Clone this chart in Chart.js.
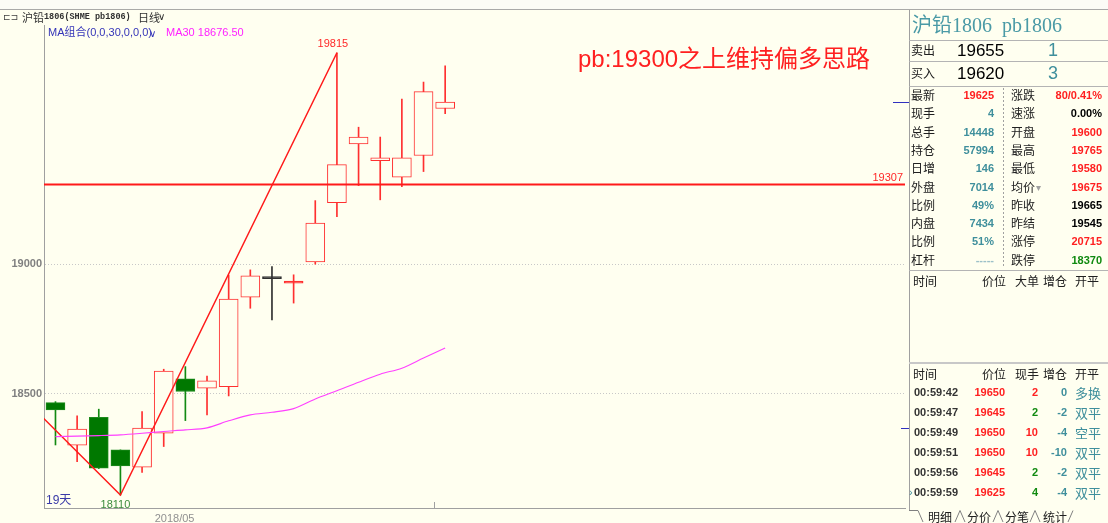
<!DOCTYPE html>
<html>
<head>
<meta charset="utf-8">
<script src="https://cdn.jsdelivr.net/npm/chart.js@4.4.1/dist/chart.umd.min.js"></script>
<style>
body{margin:0;width:1108px;height:523px;overflow:hidden;background:#fffff0;position:relative;font-family:"Noto Sans CJK SC",sans-serif}
#topbar{position:absolute;left:0;top:0;width:1108px;height:9px;background:#fbfbf6;border-bottom:1px solid #a8a8a8}
#wrap{position:absolute;left:0;top:0;width:909px;height:523px}
#panel{position:absolute;left:909px;top:10px;width:198px;height:500px;border-left:1px solid #a0a0a0}
.t{position:absolute;white-space:pre;line-height:1}
.hl{position:absolute;left:909px;width:199px;height:1px;background:#b4b4b4}
</style>
</head>
<body>
<div id="topbar"></div>
<div id="wrap"><canvas id="kline" width="909" height="523"></canvas></div>
<div id="panel"></div>
<svg style="position:absolute;left:0;top:0" width="1108" height="523">
  <g stroke="#808080" stroke-width="1" fill="none">
    <line x1="1003.5" y1="88" x2="1003.5" y2="268" stroke="#a0a0a0" stroke-dasharray="2,2"/>
    <polyline points="909,510.5 918,510.5 923,522"/>
    <polyline points="955,522 960,510.5 965,522"/>
    <polyline points="993,522 998,510.5 1003,522"/>
    <polyline points="1030,522 1035,510.5 1040,522"/>
    <polyline points="1068,522 1073,510.5"/>
  </g>
</svg>
<script>
// 沪铅1806 日线, 19 根K线
const opens  = [18466, 18302, 18410, 18284, 18217, 18348, 18558, 18522, 18528, 18873, 18948, 18929, 19009, 19237, 19464, 19399, 19335, 19419, 19600];
const highs  = [18470, 18415, 18441, 18284, 18432, 18595, 18605, 18569, 18958, 18978, 18991, 18959, 19245, 19815, 19528, 19490, 19636, 19702, 19765];
const lows   = [18303, 18239, 18212, 18110, 18197, 18297, 18397, 18419, 18492, 18830, 18785, 18850, 19000, 19183, 19303, 19248, 19299, 19357, 19580];
const closes = [18438, 18364, 18214, 18222, 18368, 18588, 18509, 18550, 18865, 18955, 18948, 18932, 19158, 19384, 19490, 19410, 19410, 19665, 19625];
const ma30   = [18335, 18337, 18339, 18342, 18348, 18355, 18361, 18369, 18396, 18419, 18429, 18443, 18480, 18512, 18545, 18576, 18599, 18638, 18676.5];

// 之字线 (前高在可视区左侧之外)
const zigX = [-2, 4, 14];
const zigY = [18610, 18110, 19815];
const supportLevel = 19307;
const rightMarks = [19625, 18370];

const yTicks = [18500, 19000];
const monthTick = 6.5;
const monthLabel = '2018/05';
const weekTick = 18.5;

const X_MIN = 0.47, X_MAX = 40.24;
const Y_MIN = 18060, Y_MAX = 19922;

const BG = '#fffff0';
const UP = '#ff3030', DOWN = '#007800', FLAT = '#303030';

const pos = opens.map((_, i) => i + 1);
function kind(i) { return closes[i] > opens[i] ? 'up' : closes[i] < opens[i] ? 'down' : 'flat'; }
function thin(i) { return Math.abs(closes[i] - opens[i]) < 8; }
function strokeOf(i) { const k = kind(i); return k === 'up' ? UP : k === 'down' ? DOWN : FLAT; }

const bodyData = pos.map((x, i) => {
  if (thin(i)) { const m = (opens[i] + closes[i]) / 2; return {x: x, y: [m - 4, m + 4]}; }
  return {x: x, y: [opens[i], closes[i]]};
});
const wickData = pos.map((x, i) => ({x: x, y: [lows[i], highs[i]]}));

const notes = {
  id: 'notes',
  afterDatasetsDraw(chart) {
    const {ctx, chartArea: a} = chart;
    const x = chart.scales.x, y = chart.scales.y;
    ctx.save();
    ctx.textAlign = 'center';
    ctx.textBaseline = 'middle';
    ctx.font = '11px "Liberation Sans"';
    ctx.fillStyle = '#ff2828';
    ctx.fillText(String(zigY[2]), x.getPixelForValue(zigX[2]) - 4, y.getPixelForValue(zigY[2]) - 9);
    ctx.fillStyle = '#3c8c3c';
    ctx.fillText(String(zigY[1]), x.getPixelForValue(zigX[1]) - 5, y.getPixelForValue(zigY[1]) + 10);
    ctx.textAlign = 'right';
    ctx.fillStyle = '#ff2828';
    ctx.fillText(String(supportLevel), a.right - 2, y.getPixelForValue(supportLevel) - 7);
    ctx.textAlign = 'left';
    ctx.fillStyle = '#3a3aa8';
    ctx.font = '12px "Liberation Sans","Noto Sans CJK SC"';
    ctx.fillText(opens.length + '天', a.left + 2, a.bottom - 7);
    ctx.fillStyle = '#ff2020';
    ctx.font = '24px "Liberation Sans","Noto Sans CJK SC"';
    ctx.fillText('pb:19300之上维持偏多思路', 578, 60);
    // week tick
    ctx.strokeStyle = '#a0a0a0';
    ctx.lineWidth = 1;
    const wx = Math.round(x.getPixelForValue(weekTick)) + 0.5;
    ctx.beginPath(); ctx.moveTo(wx, a.bottom - 6); ctx.lineTo(wx, a.bottom); ctx.stroke();
    // right edge markers
    ctx.strokeStyle = '#3030c0';
    rightMarks.forEach((v, k) => {
      const py = Math.round(y.getPixelForValue(v)) + 0.5;
      ctx.beginPath(); ctx.moveTo(k === 0 ? a.right - 12 : a.right - 4, py); ctx.lineTo(chart.width, py); ctx.stroke();
    });
    ctx.restore();
  }
};

new Chart(document.getElementById('kline').getContext('2d'), {
  type: 'bar',
  data: {
    datasets: [
      {
        type: 'line', order: 0, data: pos.map((x, i) => ({x: x, y: ma30[i]})),
        borderColor: '#ff40ff', borderWidth: 1.1, pointRadius: 0, tension: 0.3
      },
      {
        type: 'line', order: 0, data: zigX.map((x, i) => ({x: x, y: zigY[i]})),
        borderColor: '#ff1a1a', borderWidth: 1.5, pointRadius: 0
      },
      {
        type: 'line', order: 0, data: [{x: X_MIN, y: supportLevel}, {x: X_MAX, y: supportLevel}],
        borderColor: '#ff1a1a', borderWidth: 2, pointRadius: 0
      },
      {
        order: 1, data: bodyData, grouped: false, barThickness: 19,
        backgroundColor: pos.map((_, i) => thin(i) ? strokeOf(i) : (kind(i) === 'down' ? DOWN : BG)),
        borderColor: pos.map((_, i) => kind(i) === 'down' ? '#1c8a1c' : strokeOf(i)),
        borderWidth: 1, borderSkipped: false
      },
      {
        order: 2, data: wickData, grouped: false, barThickness: 1,
        backgroundColor: pos.map((_, i) => kind(i) === 'down' ? '#128a12' : strokeOf(i)),
        borderWidth: 0
      }
    ]
  },
  options: {
    responsive: false,
    animation: false,
    layout: {padding: {top: 25, right: 4, left: 0, bottom: 0}},
    plugins: {legend: {display: false}, tooltip: {enabled: false}},
    scales: {
      x: {
        type: 'linear', min: X_MIN, max: X_MAX, offset: false,
        afterBuildTicks: s => { s.ticks = [{value: monthTick}]; },
        afterFit: s => { s.height = 15; },
        ticks: {callback: () => monthLabel, color: '#909090', font: {size: 11, family: 'Liberation Sans'}, padding: 4, maxRotation: 0, autoSkip: false},
        grid: {display: false, drawTicks: false, tickLength: 0},
        border: {color: '#a0a0a0'}
      },
      y: {
        min: Y_MIN, max: Y_MAX,
        afterBuildTicks: s => { s.ticks = yTicks.map(v => ({value: v})); },
        afterFit: s => { s.width = 44; },
        ticks: {callback: v => String(v), color: '#808080', font: {size: 11, family: 'Liberation Sans', weight: 'bold'}, padding: 2},
        grid: {color: '#c8c8c8', drawTicks: false},
        border: {color: '#a0a0a0', dash: [1, 2]}
      }
    }
  },
  plugins: [notes]
});

// ---- 文本 / 右侧盘口 ----
function txt(s, x, y, o) {
  o = o || {};
  const d = document.createElement('div');
  d.className = 't';
  d.textContent = s;
  d.style.left = x + 'px';
  d.style.top = y + 'px';
  d.style.fontSize = (o.size || 12) + 'px';
  d.style.color = o.color || '#202020';
  if (o.font) d.style.fontFamily = o.font;
  if (o.bold) d.style.fontWeight = 'bold';
  d.style.transform = 'translate(' + (o.right ? '-100%' : '0') + ',-50%)';
  document.body.appendChild(d);
}
function hline(y, h, c) {
  const d = document.createElement('div');
  d.className = 'hl';
  d.style.top = y + 'px';
  if (h) d.style.height = h + 'px';
  if (c) d.style.background = c;
  document.body.appendChild(d);
}

const SANS = '"Liberation Sans","Noto Sans CJK SC"';
const TEAL = '#3f8f9c';
const RED = '#ff2020';

// header
txt('⊏⊐', 3, 17, {size: 9, color: '#404040', font: '"DejaVu Sans"'});
txt('沪铅', 22, 17, {size: 11, color: '#303030'});
txt('1806(SHME pb1806)', 44, 17, {size: 8.5, color: '#303030', font: '"Liberation Mono"', bold: true});
txt('日线', 138, 17, {size: 11, color: '#303030'});
txt('∨', 158, 17, {size: 10, color: '#303030', font: '"DejaVu Sans"'});
txt('MA组合(0,0,30,0,0,0)', 48, 32, {size: 11, color: '#3434b8', font: SANS});
txt('∨', 149, 34, {size: 10, color: '#3434b8', font: '"DejaVu Sans"'});
txt('MA30 18676.50', 166, 32, {size: 11, color: '#ff22ff', font: SANS});

// panel
txt('沪铅1806  pb1806', 912, 25, {size: 20, color: '#4a9aa6', font: '"Liberation Serif","Noto Sans CJK SC"'});
hline(40);
txt('卖出', 911, 50, {size: 12});
txt('19655', 957, 50, {size: 17, color: '#000', font: SANS});
txt('1', 1048, 50, {size: 18, color: TEAL, font: SANS});
hline(61);
txt('买入', 911, 73, {size: 12});
txt('19620', 957, 73, {size: 17, color: '#000', font: SANS});
txt('3', 1048, 73, {size: 18, color: TEAL, font: SANS});
hline(86);

const leftLabels  = ['最新', '现手', '总手', '持仓', '日增', '外盘', '比例', '内盘', '比例', '杠杆'];
const leftValues  = ['19625', '4', '14448', '57994', '146', '7014', '49%', '7434', '51%', '-----'];
const rightLabels = ['涨跌', '速涨', '开盘', '最高', '最低', '均价', '昨收', '昨结', '涨停', '跌停'];
const rightValues = ['80/0.41%', '0.00%', '19600', '19765', '19580', '19675', '19665', '19545', '20715', '18370'];
const rightColors = [RED, '#000', RED, RED, RED, RED, '#000', '#000', RED, '#108a10'];
leftLabels.forEach((s, i) => {
  const yy = 95 + i * 18.3;
  txt(s, 911, yy, {size: 12});
  txt(leftValues[i], 994, yy, {size: 11, bold: true, right: true, font: SANS, color: i === 0 ? RED : (i === 9 ? '#9cc0c8' : TEAL)});
  txt(rightLabels[i], 1011, yy, {size: 12});
  txt(rightValues[i], 1102, yy, {size: 11, bold: true, right: true, font: SANS, color: rightColors[i]});
});
txt('▾', 1036, 95 + 5 * 18.3 + 1, {size: 10, color: '#a0a0a0', font: '"DejaVu Sans"'});
hline(270);

function heads(y, third) {
  txt('时间', 913, y, {size: 12});
  txt('价位', 982, y, {size: 12});
  txt(third, 1015, y, {size: 12});
  txt('增仓', 1043, y, {size: 12});
  txt('开平', 1075, y, {size: 12});
}
heads(281, '大单');
hline(362, 2, '#c8c8c8');
heads(374, '现手');

const tradeTimes  = ['00:59:42', '00:59:47', '00:59:49', '00:59:51', '00:59:56', '00:59:59'];
const tradePrices = ['19650', '19645', '19650', '19650', '19645', '19625'];
const tradeVols   = ['2', '2', '10', '10', '2', '4'];
const volColors   = [RED, '#108a10', RED, RED, '#108a10', '#108a10'];
const tradeOI     = ['0', '-2', '-4', '-10', '-2', '-4'];
const tradeType   = ['多换', '双平', '空平', '双平', '双平', '双平'];
tradeTimes.forEach((s, i) => {
  const yy = 392 + i * 20;
  txt(s, 914, yy, {size: 11, bold: true, color: '#333', font: SANS});
  txt(tradePrices[i], 1005, yy, {size: 11, bold: true, right: true, color: RED, font: SANS});
  txt(tradeVols[i], 1038, yy, {size: 11, bold: true, right: true, color: volColors[i], font: SANS});
  txt(tradeOI[i], 1067, yy, {size: 11, bold: true, right: true, color: TEAL, font: SANS});
  txt(tradeType[i], 1075, yy, {size: 13, color: TEAL});
});
txt('›', 909, 492, {size: 11, color: TEAL, font: SANS});

const tabs = ['明细', '分价', '分笔', '统计'];
const tabX = [928, 967, 1005, 1043];
tabs.forEach((s, i) => txt(s, tabX[i], 517, {size: 12}));
</script>
</body>
</html>
